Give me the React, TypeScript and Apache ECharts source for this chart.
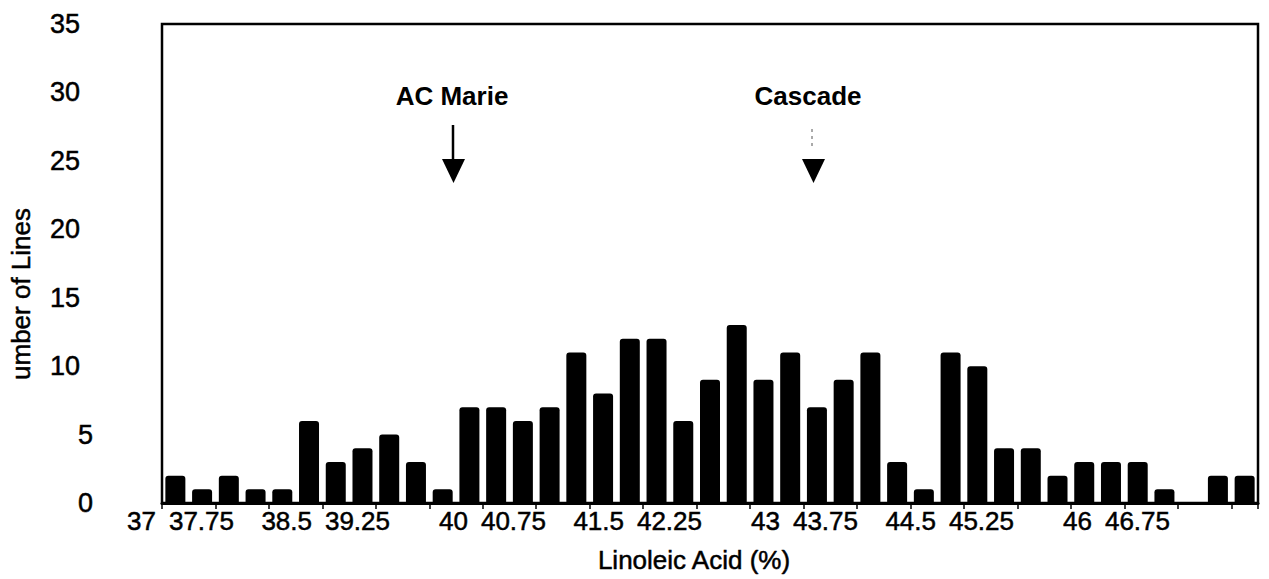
import React, { useEffect, useRef } from "react";
import * as echarts from "echarts";

// Histogram bins (Linoleic Acid %), 0.25 wide
const binValues = [
  "37", "37.25", "37.5", "37.75", "38", "38.25", "38.5", "38.75", "39", "39.25",
  "39.5", "39.75", "40", "40.25", "40.5", "40.75", "41", "41.25", "41.5", "41.75",
  "42", "42.25", "42.5", "42.75", "43", "43.25", "43.5", "43.75", "44", "44.25",
  "44.5", "44.75", "45", "45.25", "45.5", "45.75", "46", "46.25", "46.5", "46.75", "47",
];
// Number of lines per bin
const lineCounts = [
  2, 1, 2, 1, 1, 6, 3, 4, 5, 3,
  1, 7, 7, 6, 7, 11, 8, 12, 12, 6,
  9, 13, 9, 11, 7, 9, 11, 3, 1, 11,
  10, 4, 4, 2, 3, 3, 3, 1, 0, 2, 2,
];
// Printed x tick labels
const xTickLabels = [
  "37", "37.75", "38.5", "39.25", "40", "40.75", "41.5",
  "42.25", "43", "43.75", "44.5", "45.25", "46", "46.75",
];
const yMax = 35;
const yStep = 5;

const FONT = "'Liberation Sans', Arial, Helvetica, sans-serif";

export default function App() {
  const ref = useRef<HTMLDivElement>(null);

  useEffect(() => {
    document.body.style.margin = "0";
    if (!ref.current) return;
    const chart = echarts.init(ref.current, null, { renderer: "svg" });

    const labelStyle = {
      fontFamily: FONT,
      color: "#000",
      textBorderColor: "#000",
      textBorderWidth: 0.5,
    };

    const option: any = {
      animation: false,
      backgroundColor: "#ffffff",
      textStyle: { fontFamily: FONT, color: "#000" },
      grid: [
        {
          left: 162, top: 24, width: 1096, height: 479,
          show: true, borderColor: "#000", borderWidth: 2.5, backgroundColor: "transparent",
        },
        { left: 156, top: 24, width: 1092, height: 479, show: false },
      ],
      xAxis: [
        {
          type: "category",
          gridIndex: 0,
          data: binValues,
          boundaryGap: true,
          axisLine: { show: true, lineStyle: { color: "#000", width: 3 } },
          axisTick: { show: true, alignWithLabel: false, length: 6, lineStyle: { color: "#000", width: 1.5 } },
          axisLabel: { show: false },
          splitLine: { show: false },
        },
        {
          type: "value",
          gridIndex: 1,
          min: 0,
          max: xTickLabels.length,
          interval: 1,
          axisLine: { show: false },
          axisTick: { show: false },
          splitLine: { show: false },
          axisLabel: {
            show: true,
            align: "right",
            margin: 5,
            fontSize: 26,
            showMaxLabel: false,
            ...labelStyle,
            formatter: (v: number) => xTickLabels[Math.round(v)] ?? "",
          },
        },
      ],
      yAxis: [
        {
          type: "value",
          gridIndex: 0,
          min: 0,
          max: yMax,
          interval: yStep,
          axisLine: { show: false },
          axisTick: { show: false },
          splitLine: { show: false },
          axisLabel: {
            show: true,
            margin: 69,
            fontSize: 27,
            ...labelStyle,
            formatter: (v: number) => (v < 10 ? `{s|${v}}` : `{d|${v}}`),
            rich: {
              s: { fontSize: 27, ...labelStyle },
              d: { fontSize: 27, ...labelStyle, padding: [0, 13, 0, 0] },
            },
          },
        },
        {
          type: "value",
          gridIndex: 1,
          min: 0,
          max: yMax,
          show: false,
        },
      ],
      series: [
        {
          type: "bar",
          xAxisIndex: 0,
          yAxisIndex: 0,
          data: lineCounts,
          barWidth: 20,
          itemStyle: { color: "#000", borderRadius: [3, 3, 0, 0] },
        },
        {
          type: "scatter",
          xAxisIndex: 1,
          yAxisIndex: 1,
          data: [],
        },
      ],
      graphic: [
        {
          type: "text",
          x: 21, y: 294,
          rotation: Math.PI / 2,
          style: {
            text: "umber of Lines",
            font: `26px ${FONT}`,
            fill: "#000",
            stroke: "#000",
            lineWidth: 0.5,
            align: "center",
            verticalAlign: "middle",
          },
        },
        {
          type: "text",
          x: 694, y: 560,
          style: {
            text: "Linoleic Acid (%)",
            font: `26px ${FONT}`,
            fill: "#000",
            stroke: "#000",
            lineWidth: 0.5,
            align: "center",
            verticalAlign: "middle",
          },
        },
        {
          type: "text",
          x: 452, y: 96,
          style: {
            text: "AC Marie",
            font: `bold 26px ${FONT}`,
            fill: "#000",
            align: "center",
            verticalAlign: "middle",
          },
        },
        {
          type: "line",
          shape: { x1: 453, y1: 125, x2: 453, y2: 160 },
          style: { stroke: "#000", lineWidth: 2.5 },
        },
        {
          type: "polygon",
          shape: { points: [[442, 159], [465, 159], [453.5, 183]] },
          style: { fill: "#000" },
        },
        {
          type: "text",
          x: 808, y: 96,
          style: {
            text: "Cascade",
            font: `bold 26px ${FONT}`,
            fill: "#000",
            align: "center",
            verticalAlign: "middle",
          },
        },
        {
          type: "line",
          shape: { x1: 812, y1: 129, x2: 812, y2: 148 },
          style: { stroke: "#555", lineWidth: 1, lineDash: [3, 4] },
        },
        {
          type: "polygon",
          shape: { points: [[802, 159], [825, 159], [813.5, 183]] },
          style: { fill: "#000" },
        },
      ],
    };

    chart.setOption(option);
    return () => chart.dispose();
  }, []);

  return <div ref={ref} style={{ width: 1269, height: 579 }} />;
}
